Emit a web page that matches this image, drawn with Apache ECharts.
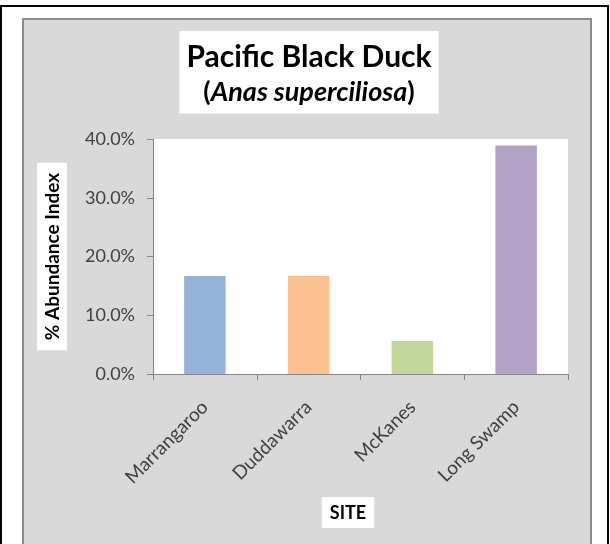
<!DOCTYPE html>
<html>
<head>
<meta charset="utf-8">
<script src="https://cdn.jsdelivr.net/npm/echarts@6/dist/echarts.min.js"></script>
<style>
html,body{margin:0;padding:0;background:#fff;}
#chart{width:610px;height:544px;}
</style>
</head>
<body>
<div id="chart"></div>
<script>
var categories = ['Marrangaroo', 'Duddawarra', 'McKanes', 'Long Swamp'];
var abundance = [0.167, 0.167, 0.056, 0.389];
var barColors = ['#95b3d7', '#fac090', '#c3d69b', '#b3a2c7'];
var yTicks = { min: 0, max: 0.4, interval: 0.1 };

var chart = echarts.init(document.getElementById('chart'));
var FONT = 'Lato';
chart.setOption({
  backgroundColor: '#ffffff',
  animation: false,
  graphic: [
    { type: 'rect', z: -10, silent: true,
      shape: { x: 1, y: 6, width: 607, height: 560 },
      style: { fill: '#ffffff', stroke: '#000000', lineWidth: 2 } },
    { type: 'rect', z: -9, silent: true,
      shape: { x: 23, y: 19, width: 568, height: 560 },
      style: { fill: '#d9d9d9', stroke: '#8c8c8c', lineWidth: 2 } }
  ],
  title: {
    left: 302, top: 31,
    textAlign: 'center',
    backgroundColor: '#ffffff',
    padding: [9, 7, 8, 7],
    itemGap: 3,
    text: 'Pacific Black Duck',
    textStyle: { fontFamily: FONT, fontWeight: 'bold', fontSize: 30, color: '#000', lineHeight: 34 },
    subtext: '{p|(}{i|Anas superciliosa}{p|)}',
    subtextStyle: {
      rich: {
        p: { fontFamily: FONT, fontWeight: 'bold', fontSize: 27, color: '#000', lineHeight: 30 },
        i: { fontFamily: FONT, fontWeight: 'bold', fontStyle: 'italic', fontSize: 27, color: '#000', lineHeight: 30 }
      }
    }
  },
  grid: { left: 153, top: 139, width: 415, height: 235, show: true, backgroundColor: '#ffffff', borderWidth: 0 },
  xAxis: {
    type: 'category',
    data: categories,
    name: '{s|SITE}{g|}',
    nameLocation: 'middle',
    nameGap: 123,
    nameTextStyle: {
      rich: {
        s: { fontFamily: FONT, fontWeight: 'bold', fontSize: 18, color: '#000', backgroundColor: '#ffffff', padding: [7, 8, 6, 8] },
        g: { width: 25 }
      }
    },
    axisLine: { lineStyle: { color: '#868686', width: 1 } },
    axisTick: { show: true, alignWithLabel: false, length: 6, lineStyle: { color: '#868686' } },
    axisLabel: { rotate: 45, margin: 30, fontFamily: FONT, fontSize: 19, color: '#404040', interval: 0 }
  },
  yAxis: {
    type: 'value',
    min: yTicks.min, max: yTicks.max, interval: yTicks.interval,
    name: '% Abundance Index',
    nameLocation: 'middle',
    nameRotate: 90,
    nameGap: 86,
    nameTextStyle: { fontFamily: FONT, fontWeight: 'bold', fontSize: 19, color: '#000', backgroundColor: '#ffffff', padding: [6, 10, 5, 10] },
    axisLine: { show: true, lineStyle: { color: '#868686', width: 1 } },
    axisTick: { show: true, length: 6, lineStyle: { color: '#868686' } },
    splitLine: { show: false },
    axisLabel: {
      margin: 18, fontFamily: FONT, fontSize: 18, color: '#404040',
      formatter: function (v) { return (v * 100).toFixed(1) + '%'; }
    }
  },
  series: [{
    type: 'bar',
    data: abundance.map(function (v, i) { return { value: v, itemStyle: { color: barColors[i] } }; }),
    barWidth: '40%'
  }]
});
</script>
</body>
</html>
